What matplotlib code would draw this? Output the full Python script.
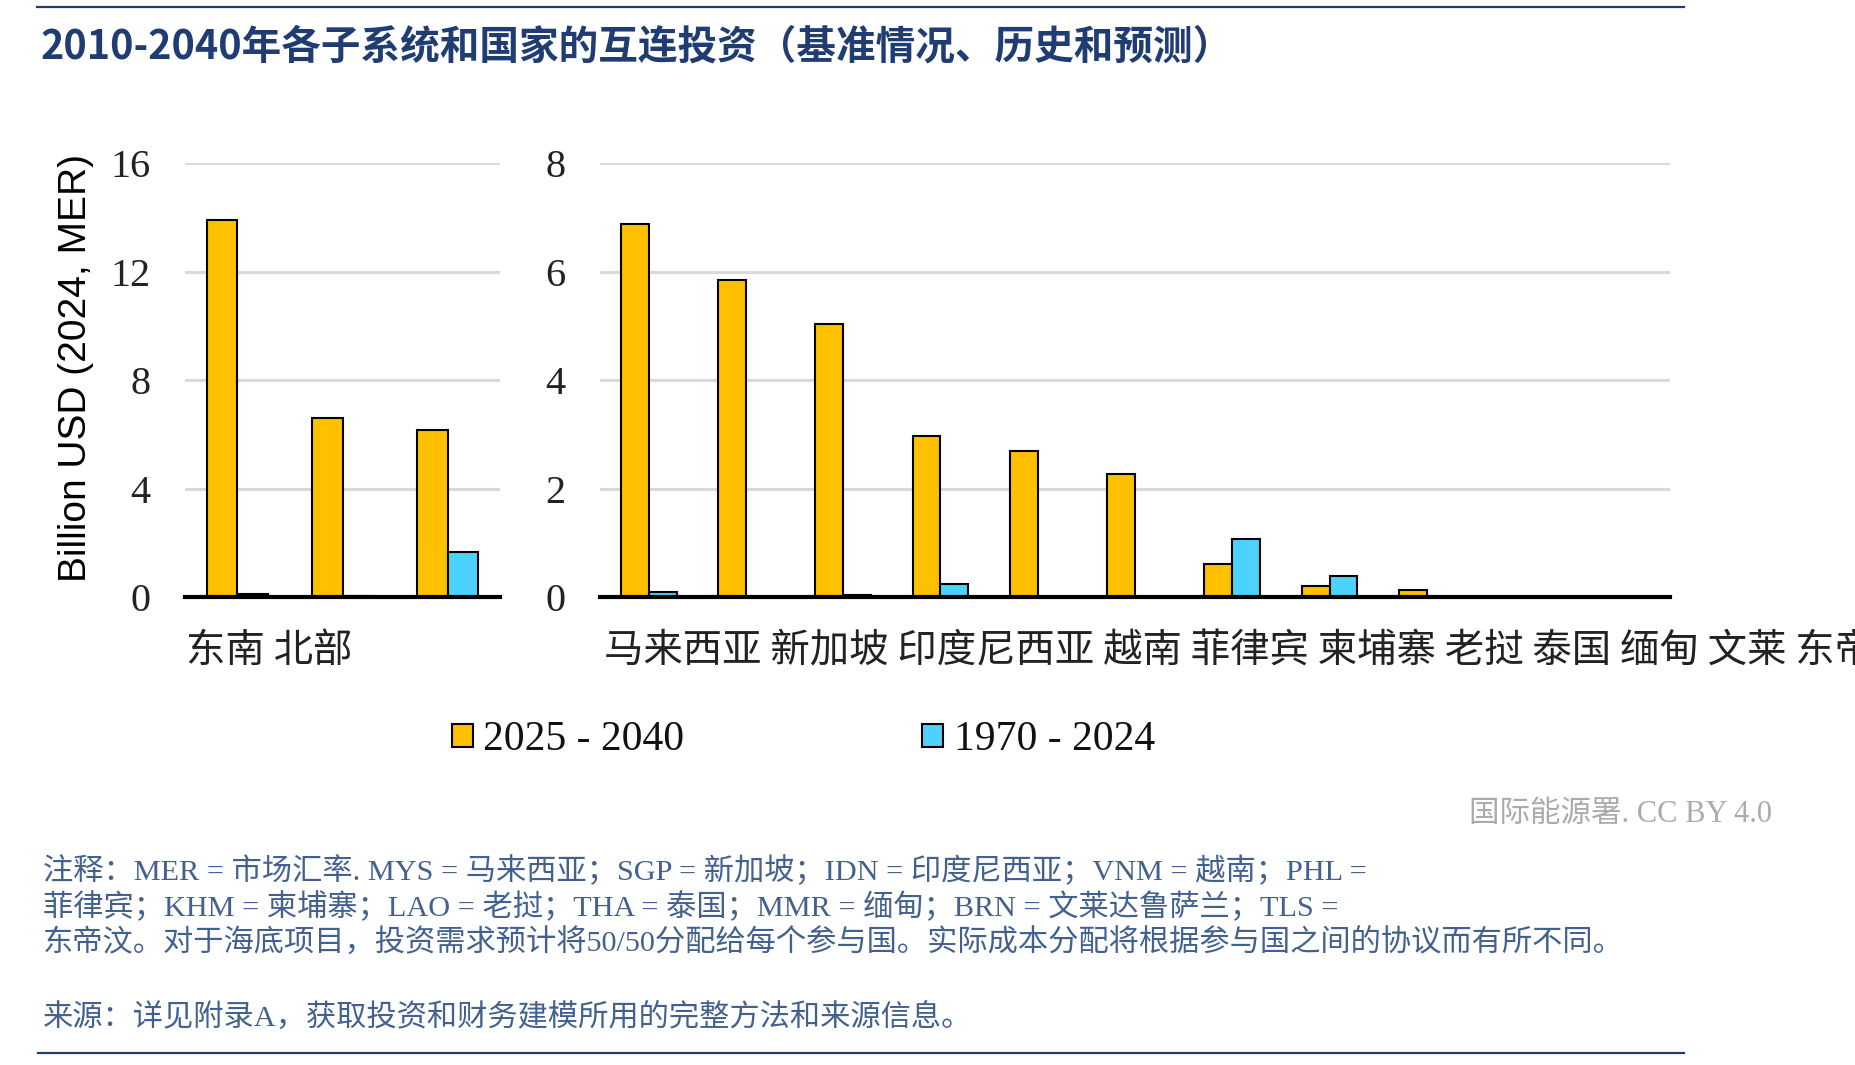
import matplotlib
matplotlib.use("Agg")
import matplotlib.pyplot as plt
import numpy as np
from matplotlib.patches import Patch
from matplotlib.lines import Line2D

# ---------------- data ----------------
left_categories = ["东南", "北部", ""]
left_future = [13.9, 6.6, 6.15]
left_hist = [0.1, 0.02, 1.65]

right_categories = ["马来西亚", "新加坡", "印度尼西亚", "越南", "菲律宾", "柬埔寨",
                    "老挝", "泰国", "缅甸", "文莱", "东帝汶"]
right_future = [6.88, 5.85, 5.04, 2.96, 2.70, 2.27, 0.60, 0.20, 0.12, 0.0, 0.0]
right_hist = [0.10, 0.0, 0.03, 0.24, 0.0, 0.0, 1.06, 0.38, 0.0, 0.0, 0.0]

left_ticks = [0, 4, 8, 12, 16]
right_ticks = [0, 2, 4, 6, 8]

series_names = ["2025 - 2040", "1970 - 2024"]

title = "2010-2040年各子系统和国家的互连投资（基准情况、历史和预测）"
ylabel = "Billion USD (2024, MER)"
credit = "国际能源署. CC BY 4.0"
note_lines = [
    "注释：MER = 市场汇率. MYS = 马来西亚；SGP = 新加坡；IDN = 印度尼西亚；VNM = 越南；PHL =",
    "菲律宾；KHM = 柬埔寨；LAO = 老挝；THA = 泰国；MMR = 缅甸；BRN = 文莱达鲁萨兰；TLS =",
    "东帝汶。对于海底项目，投资需求预计将50/50分配给每个参与国。实际成本分配将根据参与国之间的协议而有所不同。",
]
source = "来源：详见附录A，获取投资和财务建模所用的完整方法和来源信息。"

# ---------------- style ----------------
ORANGE = "#FFC000"
BLUE = "#4DD2FF"
NAVY = "#1F3D73"
NOTE = "#43618F"
GRID = "#D9D9D9"
CJK = ["Noto Sans CJK SC", "DejaVu Sans"]
SERIF = ["Liberation Serif", "DejaVu Serif"]
SERIF_CJK = ["Liberation Serif", "Noto Sans CJK SC", "DejaVu Sans"]

W, H = 1856, 1065
fig = plt.figure(figsize=(W / 100, H / 100), dpi=100)

def fx(px):
    return px / W

def fy(py):
    return 1 - py / H

ax_bottom_px, ax_top_px = 597, 163
axL = fig.add_axes([fx(185), fy(ax_bottom_px), fx(500) - fx(185), (ax_bottom_px - ax_top_px) / H])
axR = fig.add_axes([fx(600), fy(ax_bottom_px), fx(1670) - fx(600), (ax_bottom_px - ax_top_px) / H])

bw = 0.287

def draw(ax, cats, fut, hist, ticks):
    x = np.arange(len(cats))
    ax.bar(x - bw / 2, fut, width=bw, color=ORANGE, edgecolor="black", linewidth=1.5, zorder=3)
    ax.bar(x + bw / 2, hist, width=bw, color=BLUE, edgecolor="black", linewidth=1.5, zorder=3)
    ax.set_xlim(-0.5, len(cats) - 0.5)
    ax.set_ylim(ticks[0], ticks[-1])
    ax.set_yticks(ticks)
    ax.set_yticklabels([str(t) for t in ticks], fontfamily=SERIF, fontsize=29, color="#222222")
    ax.set_xticks([])
    ax.tick_params(axis="y", length=0, pad=25)
    ax.yaxis.grid(True, color=GRID, linewidth=2.2, zorder=0)
    ax.set_axisbelow(True)
    for s in ["top", "right", "left"]:
        ax.spines[s].set_visible(False)
    ax.spines["bottom"].set_linewidth(3)
    ax.spines["bottom"].set_color("black")
    ax.spines["bottom"].set_zorder(5)
    ax.patch.set_alpha(0)

draw(axL, left_categories, left_future, left_hist, left_ticks)
draw(axR, right_categories, right_future, right_hist, right_ticks)

# category label rows (the right row runs past the figure edge, as in the original)
fig.text(fx(186), fy(651), " ".join(c for c in left_categories if c), fontfamily=CJK,
         fontsize=28.4, color="#222222", ha="left", va="center")
fig.text(fx(604), fy(651), " ".join(c for c in right_categories if c), fontfamily=CJK,
         fontsize=28.4, color="#222222", ha="left", va="center")

# y label
fig.text(fx(76), fy(368), ylabel, rotation=90, fontfamily=["Liberation Sans", "DejaVu Sans"],
         fontsize=28, color="black", ha="center", va="center")

# legend
handles = [Patch(facecolor=ORANGE, edgecolor="black", linewidth=1.5),
           Patch(facecolor=BLUE, edgecolor="black", linewidth=1.5)]
leg = fig.legend(handles, series_names, loc="center left", bbox_to_anchor=(fx(452), fy(740)),
                 ncol=2, frameon=False, prop={"family": SERIF, "size": 30},
                 handlelength=0.5, handleheight=0.5, handletextpad=0.25,
                 columnspacing=5.71, borderpad=0, borderaxespad=0)
for t in leg.get_texts():
    t.set_color("#111111")

# title and rules
fig.add_artist(Line2D([fx(37), fx(1684)], [fy(6.5), fy(6.5)], color=NAVY, linewidth=1.6))
fig.add_artist(Line2D([fx(38), fx(1684)], [fy(1053), fy(1053)], color=NAVY, linewidth=1.6))
fig.text(fx(41), fy(47), title, fontfamily=CJK, fontsize=28.5, fontweight="bold",
         color=NAVY, ha="left", va="center")

# credit
fig.text(fx(1772), fy(814), credit, fontfamily=SERIF_CJK, fontsize=22, color="#ABABAB",
         ha="right", va="center")

# notes
ys = [871, 906.5, 942]
for line, y in zip(note_lines, ys):
    fig.text(fx(43), fy(y), line, fontfamily=SERIF_CJK, fontsize=21.8, color=NOTE,
             ha="left", va="center")
fig.text(fx(43), fy(1017.5), source, fontfamily=SERIF_CJK, fontsize=21.8, color=NOTE,
         ha="left", va="center")

fig.savefig("out.png", dpi=100)
